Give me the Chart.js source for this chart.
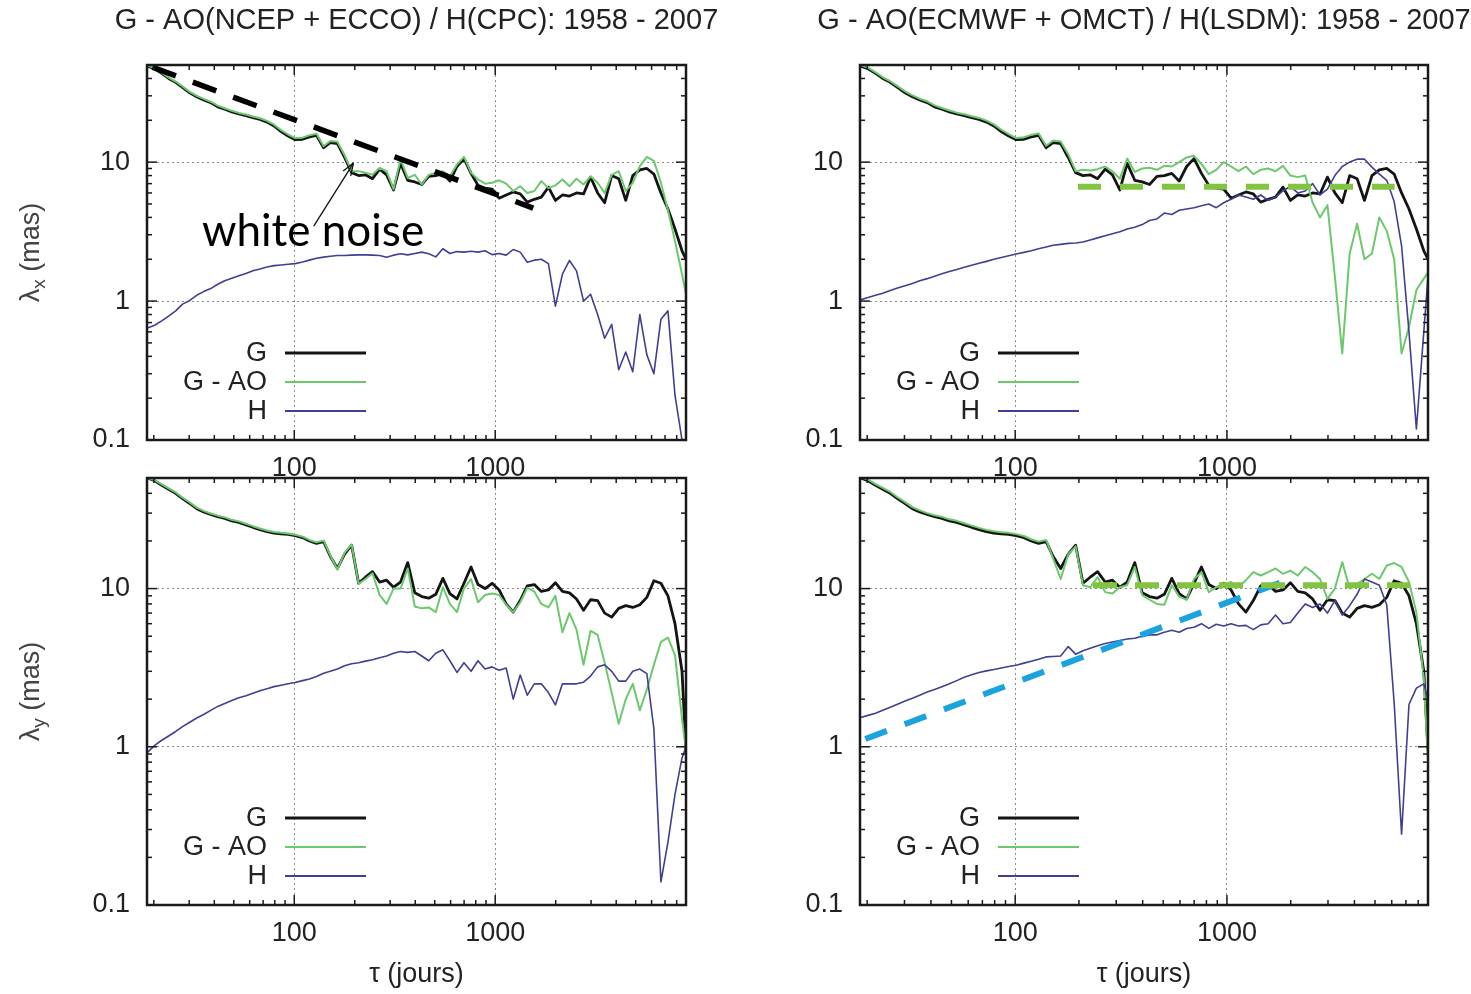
<!DOCTYPE html>
<html>
<head>
<meta charset="utf-8">
<script src="https://cdn.jsdelivr.net/npm/chart.js@4.4.1/dist/chart.umd.min.js"></script>
<style>
  html, body { margin: 0; padding: 0; background: #fff; }
  #wrap { position: relative; width: 1471px; height: 994px; overflow: hidden; background: #fff; }
  canvas { position: absolute; background: #fff; }
  #cTL { left: 0; top: 0; }
  #cTR { left: 735px; top: 0; }
  #cBL { left: 0; top: 476px; }
  #cBR { left: 735px; top: 476px; }
</style>
</head>
<body>
<div id="wrap">
  <canvas id="cTL" width="735" height="476"></canvas>
  <canvas id="cTR" width="736" height="476"></canvas>
  <canvas id="cBL" width="735" height="518"></canvas>
  <canvas id="cBR" width="736" height="518"></canvas>
</div>
<script>
// averaging time tau (days), same grid for every curve
const tau = [18.6, 20.2, 21.9, 23.7, 25.7, 27.8, 30.2, 32.7, 35.4, 38.4,
  41.6, 45.1, 48.9, 53.0, 57.5, 62.3, 67.5, 73.2, 79.3, 86.0,
  93.2, 101, 110, 119, 129, 140, 151, 164, 178, 193,
  209, 226, 245, 266, 288, 312, 338, 367, 398, 431,
  467, 506, 549, 595, 645, 699, 758, 821, 890, 965,
  1046, 1134, 1229, 1332, 1444, 1565, 1696, 1839, 1993, 2160,
  2342, 2538, 2751, 2982, 3233, 3504, 3798, 4117, 4462, 4837,
  5243, 5683, 6160, 6677, 7237, 7845, 8503, 8900];

const xMajor = [100, 1000];
const xMinor = [20, 30, 40, 50, 60, 70, 80, 90, 200, 300, 400, 500, 600, 700, 800, 900,
  2000, 3000, 4000, 5000, 6000, 7000, 8000];
const yMajor = [0.1, 1, 10];
const yMinor = [0.2, 0.3, 0.4, 0.5, 0.6, 0.7, 0.8, 0.9, 2, 3, 4, 5, 6, 7, 8, 9, 20, 30, 40];

// G (geodetic), x component -- same in both top panels
const gX = [49, 47, 43.5, 40, 37.5, 34.5, 31.5, 29.5, 28, 26.8,
  25, 24, 23, 22.2, 21.6, 20.9, 20.3, 19.4, 18.2, 16.6,
  15.4, 14.5, 14.6, 15.2, 15.6, 12.7, 13.8, 13.6, 10.8, 8.4,
  8.0, 8.1, 7.6, 8.9, 8.1, 6.3, 9.8, 7.4, 7.2, 6.9,
  7.9, 8.0, 8.3, 7.3, 9.3, 10.6, 8.3, 6.8, 6.5, 6.4,
  5.5, 5.8, 6.1, 5.9, 5.15, 5.4, 5.6, 6.6, 5.3, 5.8,
  5.7, 6.0, 5.9, 7.8, 6.0, 5.1, 8.0, 7.6, 5.3, 8.0,
  8.8, 9.0, 8.2, 6.0, 4.6, 3.3, 2.3, 2.0];
// G - AO (NCEP + ECCO), x
const gaoX1 = [49.5, 47.5, 44, 40.5, 38, 35, 32, 30, 28.5, 27.2,
  25.5, 24.4, 23.4, 22.6, 22, 21.3, 20.7, 19.8, 18.6, 17,
  15.8, 14.9, 15, 15.6, 16, 13, 14.2, 14, 11.2, 8.6,
  8.6, 8.4, 8.1, 9.1, 8.6, 6.4, 10.5, 7.7, 8.1, 6.9,
  8.1, 8.4, 8.6, 7.9, 9.6, 10.9, 8.4, 7.5, 7.0, 7.1,
  7.4, 7.0, 6.2, 6.7, 6.0, 6.2, 7.3, 6.5, 6.8, 7.5,
  6.7, 7.6, 6.9, 7.9, 7.1, 6.0, 8.1, 8.6, 6.2, 7.1,
  9.35, 10.9, 10.2, 7.1, 4.5, 2.7, 1.56, 1.12];
// H (CPC), x
const hX1 = [0.64, 0.67, 0.72, 0.78, 0.85, 0.95, 1.01, 1.10, 1.17, 1.23,
  1.32, 1.40, 1.46, 1.52, 1.58, 1.65, 1.70, 1.76, 1.80, 1.82,
  1.84, 1.86, 1.91, 1.97, 2.03, 2.07, 2.10, 2.13, 2.13, 2.14,
  2.15, 2.15, 2.14, 2.13, 2.07, 2.14, 2.19, 2.15, 2.2, 2.25,
  2.19, 2.08, 2.38, 2.2, 2.27, 2.25, 2.28, 2.25, 2.3, 2.16,
  2.2, 2.14, 2.35, 2.25, 1.9, 1.97, 2.0, 1.86, 0.92, 1.56,
  1.96, 1.65, 1.0, 1.12, 0.80, 0.54, 0.68, 0.32, 0.43, 0.31,
  0.80, 0.41, 0.30, 0.74, 0.85, 0.21, 0.10, 0.08];
// G - AO (ECMWF + OMCT), x
const gaoX2 = [50, 47.8, 44.3, 40.8, 38.2, 35.2, 32.3, 30.2, 28.6, 27.4,
  25.6, 24.5, 23.5, 22.7, 22.1, 21.4, 20.8, 19.9, 18.7, 17.1,
  15.9, 14.9, 15.1, 15.7, 16.1, 13.1, 14.3, 14.1, 11.4, 8.6,
  8.8, 8.7, 8.9, 9.3, 8.6, 7.6, 10.6, 8.5, 9.0, 9.1,
  8.8, 9.4, 9.3, 10.0, 10.8, 11.1, 9.7, 8.2, 8.8, 10.0,
  9.3, 8.6, 9.3, 8.2, 8.8, 9.0, 8.6, 9.4, 8.0, 7.8,
  8.0, 5.1, 4.0, 4.9, 1.5, 0.42, 2.2, 3.6, 2.0, 2.2,
  4.0, 3.2, 2.0, 0.42, 0.65, 1.2, 1.45, 1.6];
// H (LSDM), x
const hX2 = [1.02, 1.06, 1.10, 1.14, 1.19, 1.24, 1.29, 1.34, 1.40, 1.45,
  1.51, 1.57, 1.63, 1.69, 1.75, 1.81, 1.87, 1.93, 2.0, 2.06,
  2.12, 2.18, 2.24, 2.30, 2.38, 2.45, 2.52, 2.56, 2.60, 2.62,
  2.66, 2.75, 2.85, 2.95, 3.05, 3.15, 3.3, 3.4, 3.55, 3.8,
  3.9, 4.3, 4.2, 4.5, 4.6, 4.7, 4.85, 5.0, 4.7, 5.1,
  5.4, 5.8, 5.6, 5.4, 5.8, 5.3, 5.6, 6.2, 6.7, 6.0,
  6.2, 7.0, 5.8, 6.4, 8.0, 9.3, 10.0, 10.5, 10.5, 9.2,
  8.2, 7.4, 5.2, 2.5, 0.6, 0.12, 0.6, 1.5];

// G, y component -- same in both bottom panels
const gY = [50, 48, 45, 42.5, 40, 37, 34.5, 32, 30.5, 29.4,
  28.5, 27.8, 26.8, 26.2, 25.3, 24.4, 23.6, 22.9, 22.4, 22.2,
  22.0, 21.6, 21.0, 20.0, 19.3, 19.8, 16.0, 13.4, 16.5, 18.8,
  10.8, 11.8, 12.8, 11.0, 11.3, 10.2, 11.0, 14.6, 9.4, 8.9,
  8.7, 9.2, 11.6, 9.3, 8.6, 10.8, 13.7, 10.6, 10.0, 10.8,
  9.8, 8.0, 7.1, 8.4, 10.4, 10.6, 9.6, 9.8, 10.9, 9.6,
  9.4, 8.6, 7.3, 8.5, 8.4, 7.0, 6.6, 7.5, 7.8, 7.6,
  7.9, 8.8, 11.2, 10.8, 9.0, 6.0, 3.0, 0.95];
const gaoY1 = [50, 48.5, 45.5, 43, 40.5, 37.5, 35, 32.5, 31, 29.8,
  28.9, 28.2, 27.2, 26.6, 25.7, 24.8, 24, 23.3, 22.8, 22.5,
  22.3, 21.9, 21.3, 20.3, 19.6, 20.1, 16.2, 13.2, 16.8, 19.0,
  10.7, 11.5, 12.5, 9.1, 8.0, 10.0, 10.0, 13.4, 7.7, 7.5,
  7.6, 7.1, 10.2, 8.0, 7.1, 10.0, 11.5, 8.2, 9.1, 9.3,
  9.1, 7.9, 7.1, 8.2, 10.1, 9.6, 8.0, 7.6, 9.0, 5.3,
  7.0, 5.5, 3.3, 5.4, 5.1, 3.4, 2.2, 1.4, 2.0, 2.5,
  1.7, 2.3, 3.3, 4.6, 4.9, 3.8, 1.5, 0.95];
const hY1 = [0.92, 1.02, 1.10, 1.17, 1.25, 1.34, 1.43, 1.52, 1.60, 1.70,
  1.80, 1.88, 1.96, 2.04, 2.10, 2.18, 2.26, 2.33, 2.40, 2.45,
  2.50, 2.55, 2.62, 2.68, 2.78, 2.92, 3.0, 3.1, 3.25, 3.35,
  3.40, 3.48, 3.55, 3.65, 3.75, 3.9, 4.0, 3.95, 4.0, 3.75,
  3.5, 3.9, 4.1, 3.5, 2.95, 3.4, 3.0, 3.5, 3.1, 3.2,
  3.05, 3.15, 2.0, 2.84, 2.12, 2.5, 2.5, 2.2, 1.84, 2.5,
  2.5, 2.5, 2.56, 2.8, 3.2, 3.3, 3.0, 2.6, 2.6, 3.0,
  3.1, 2.9, 1.3, 0.14, 0.25, 0.5, 0.85, 1.0];
const gaoY2 = [50.5, 48.8, 45.8, 43.3, 40.8, 37.8, 35.2, 32.7, 31.2, 30,
  29.1, 28.4, 27.4, 26.8, 25.9, 25, 24.2, 23.5, 23, 22.7,
  22.5, 22.1, 21.5, 20.5, 19.8, 20.3, 15.5, 11.5, 16.5, 18.5,
  10.5, 10.2, 11.8, 9.5, 9.3, 10.2, 10.5, 13.7, 9.1, 8.5,
  8.0, 7.9, 10.5, 8.9, 8.5, 11.5, 12.7, 9.5, 10.2, 10.5,
  11, 10.2, 11.3, 12.7, 12.1, 12.7, 13.4, 12.4, 13, 12.1,
  13.7, 12.7, 11.5, 8.6, 10, 14.7, 10, 10.7, 11.5, 12.4,
  11.5, 14.0, 14.5, 13.7, 11, 7.1, 2.7, 0.82];
const hY2 = [1.53, 1.58, 1.63, 1.70, 1.78, 1.86, 1.95, 2.03, 2.12, 2.22,
  2.30, 2.40, 2.50, 2.62, 2.75, 2.85, 2.95, 3.02, 3.08, 3.15,
  3.22, 3.28, 3.38, 3.47, 3.58, 3.70, 3.72, 3.75, 4.3, 3.85,
  4.05, 4.2, 4.35, 4.5, 4.6, 4.7, 4.8, 4.85, 5.0, 5.1,
  5.1, 5.3, 5.45, 5.3, 5.6, 5.7, 6.0, 5.6, 5.95, 5.8,
  6.0, 5.8, 5.85, 5.5, 5.9, 6.0, 6.8, 6.0, 6.1, 7.0,
  8.0, 7.6, 8.0, 7.0, 8.4, 6.8, 7.8, 9.2, 11.5, 11.0,
  10.5, 7.9, 1.9, 0.28, 1.85, 2.35, 2.5, 2.0];

// dashed lines drawn over the figure afterwards (tau, value at both ends)
const noiseLineTau = [19.7, 1546], noiseLineVal = [48.2, 4.67];
const flatXTau = [198, 6190], flatXVal = [6.65, 6.65];
const flatYTau = [233, 7300], flatYVal = [10.5, 10.5];
const riseYTau = [19.6, 1780], riseYVal = [1.12, 10.9];
// "white noise" note and its arrow
const noteText = 'white noise';
const notePos = [124, 2.49];
const arrowFrom = [125, 3.46], arrowTo = [197, 9.84];

const FONT = '"Liberation Sans", Arial, sans-serif';

function pts(xs, ys) {
  return xs.map((t, i) => ({ x: t, y: ys[i] }));
}

function curve(label, color, width, ys, order) {
  return { label: label, data: pts(tau, ys), borderColor: color, borderWidth: width,
    pointRadius: 0, tension: 0, borderJoinStyle: 'round', order: order, inLegend: true };
}

function dashed(xs, ys, color, width, dash) {
  return { label: '', data: pts(xs, ys), borderColor: color, borderWidth: width,
    borderDash: dash, borderCapStyle: 'butt', pointRadius: 0, order: 0, inLegend: false };
}

function seg(ctx, x1, y1, x2, y2) {
  ctx.beginPath(); ctx.moveTo(x1, y1); ctx.lineTo(x2, y2); ctx.stroke();
}

// gnuplot-like frame: border, inward ticks on four sides, legend, titles
function framePlugin(p) {
  return {
    id: 'frame',
    afterDraw(chart) {
      const { ctx, chartArea: a, scales: { x, y } } = chart;
      ctx.save();
      ctx.strokeStyle = '#1a1a1a';
      ctx.lineWidth = 1.5;
      xMajor.concat(xMinor).forEach(v => {
        const len = xMajor.includes(v) ? 10 : 5;
        const px = x.getPixelForValue(v);
        seg(ctx, px, a.bottom, px, a.bottom - len);
        seg(ctx, px, a.top, px, a.top + len);
      });
      yMajor.concat(yMinor).forEach(v => {
        const len = yMajor.includes(v) ? 10 : 5;
        const py = y.getPixelForValue(v);
        seg(ctx, a.left, py, a.left + len, py);
        seg(ctx, a.right, py, a.right - len, py);
      });
      ctx.lineWidth = 2.5;
      ctx.strokeRect(a.left, a.top, a.right - a.left, a.bottom - a.top);

      // legend, bottom left inside the plot
      ctx.font = '27px ' + FONT;
      ctx.textAlign = 'right';
      ctx.textBaseline = 'middle';
      chart.data.datasets.filter(d => d.inLegend).forEach((d, k) => {
        const yy = a.bottom - 87 + 29 * k;
        ctx.fillStyle = '#222';
        ctx.fillText(d.label, a.left + 120, yy + 1);
        ctx.strokeStyle = d.borderColor;
        ctx.lineWidth = Math.max(2, d.borderWidth);
        seg(ctx, a.left + 138, yy, a.left + 219, yy);
      });

      if (p.title) {
        ctx.font = '29px ' + FONT;
        ctx.textAlign = 'center';
        ctx.fillStyle = '#222';
        ctx.fillText(p.title, (a.left + a.right) / 2, 21);
      }

      if (p.comp) {
        ctx.translate(a.left - 117, (a.top + a.bottom) / 2);
        ctx.rotate(-Math.PI / 2);
        ctx.fillStyle = '#444';
        ctx.textAlign = 'left';
        ctx.textBaseline = 'alphabetic';
        ctx.font = '27px ' + FONT;
        const wl = ctx.measureText('\u03bb').width;
        const wr = ctx.measureText(' (mas)').width;
        ctx.font = '19px ' + FONT;
        const ws = ctx.measureText(p.comp).width;
        const x0 = -(wl + ws + wr) / 2;
        ctx.font = '27px ' + FONT;
        ctx.fillText('\u03bb', x0, 9);
        ctx.fillText(' (mas)', x0 + wl + ws, 9);
        ctx.font = '19px ' + FONT;
        ctx.fillText(p.comp, x0 + wl, 15);
        ctx.setTransform(1, 0, 0, 1, 0, 0);
      }

      if (p.note) {
        const ax = x.getPixelForValue(arrowFrom[0]), ay = y.getPixelForValue(arrowFrom[1]);
        const bx = x.getPixelForValue(arrowTo[0]), by = y.getPixelForValue(arrowTo[1]);
        ctx.strokeStyle = '#111';
        ctx.lineWidth = 1.3;
        seg(ctx, ax, ay, bx, by);
        const ang = Math.atan2(by - ay, bx - ax);
        seg(ctx, bx, by, bx - 13 * Math.cos(ang - 0.35), by - 13 * Math.sin(ang - 0.35));
        seg(ctx, bx, by, bx - 13 * Math.cos(ang + 0.35), by - 13 * Math.sin(ang + 0.35));
        ctx.font = '44px Lato, "Open Sans", sans-serif';
        ctx.fillStyle = '#000';
        ctx.textAlign = 'center';
        ctx.textBaseline = 'alphabetic';
        ctx.fillText(noteText, x.getPixelForValue(notePos[0]), y.getPixelForValue(notePos[1]));
      }
      ctx.restore();
    }
  };
}

function makePanel(p) {
  const datasets = [
    curve('G', '#141414', 2.8, p.g, 3),
    curve('G - AO', '#6cc86c', 2.0, p.gao, 2),
    curve('H', '#3f3f95', 1.6, p.h, 1)
  ].concat(p.extra);

  new Chart(document.getElementById(p.id), {
    type: 'line',
    data: { datasets: datasets },
    options: {
      responsive: false,
      animation: false,
      events: [],
      layout: { padding: { top: p.padTop, right: p.padRight, left: 0, bottom: 0 } },
      plugins: { legend: { display: false }, tooltip: { enabled: false }, title: { display: false } },
      scales: {
        x: {
          type: 'logarithmic', min: 18.5, max: 8900,
          afterBuildTicks: s => { s.ticks = xMajor.map(v => ({ value: v })); },
          afterFit: s => { s.height = p.xHeight; s.paddingLeft = 0; s.paddingRight = 0; },
          ticks: { callback: v => String(v), color: '#222', font: { family: FONT, size: 27 },
            padding: 12, maxRotation: 0, minRotation: 0, autoSkip: false },
          grid: { color: '#8c8c8c', lineWidth: 1, drawTicks: false },
          border: { display: false, dash: [2, 3] },
          title: { display: !!p.xTitle, text: p.xTitle || '', color: '#222',
            font: { family: FONT, size: 27 }, padding: { top: 0, bottom: 3 } }
        },
        y: {
          type: 'logarithmic', min: 0.1, max: 50,
          afterBuildTicks: s => { s.ticks = yMajor.map(v => ({ value: v })); },
          afterFit: s => { s.width = p.yWidth; s.paddingTop = 0; s.paddingBottom = 0; },
          ticks: { callback: v => String(v), color: '#222', font: { family: FONT, size: 27 },
            padding: 17, autoSkip: false },
          grid: { color: '#8c8c8c', lineWidth: 1, drawTicks: false },
          border: { display: false, dash: [2, 3] }
        }
      }
    },
    plugins: [framePlugin(p)]
  });
}

makePanel({ id: 'cTL', title: 'G - AO(NCEP + ECCO) / H(CPC): 1958 - 2007', comp: 'x', note: true,
  g: gX, gao: gaoX1, h: hX1, padTop: 65, padRight: 49, yWidth: 147, xHeight: 36,
  extra: [dashed(noiseLineTau, noiseLineVal, '#000', 5.5, [25, 18])] });
makePanel({ id: 'cTR', title: 'G - AO(ECMWF + OMCT) / H(LSDM): 1958 - 2007',
  g: gX, gao: gaoX2, h: hX2, padTop: 65, padRight: 43, yWidth: 125, xHeight: 36,
  extra: [dashed(flatXTau, flatXVal, '#82c341', 6, [23, 19])] });
makePanel({ id: 'cBL', comp: 'y', xTitle: '\u03c4 (jours)',
  g: gY, gao: gaoY1, h: hY1, padTop: 2, padRight: 49, yWidth: 147, xHeight: 89,
  extra: [] });
makePanel({ id: 'cBR', xTitle: '\u03c4 (jours)',
  g: gY, gao: gaoY2, h: hY2, padTop: 2, padRight: 43, yWidth: 125, xHeight: 89,
  extra: [dashed(flatYTau, flatYVal, '#82c341', 6, [24, 18]),
          dashed(riseYTau, riseYVal, '#1ba3e0', 6, [23, 19])] });
</script>
</body>
</html>
